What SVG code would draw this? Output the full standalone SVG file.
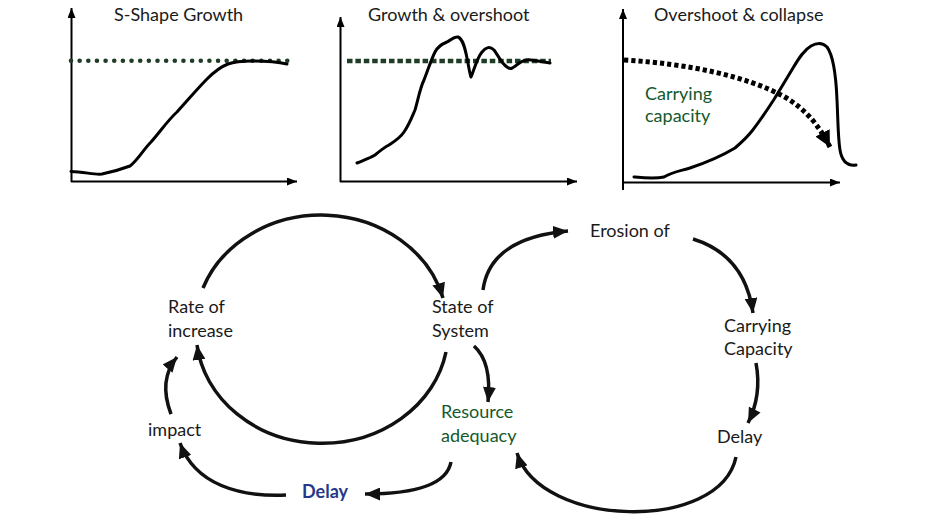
<svg xmlns="http://www.w3.org/2000/svg" width="942" height="520" viewBox="0 0 942 520">
<defs>
<style>
text{font-family:Lato,"Liberation Sans",sans-serif;font-size:18px;fill:#1a1a1a}
.g{fill:#13592b}
.b{fill:#26388a;font-weight:bold}
.axis{stroke:#000;stroke-width:2;fill:none}
.curve{stroke:#000;stroke-width:3;fill:none;stroke-linejoin:round;stroke-linecap:round}
.conn{stroke:#111;stroke-width:3.5;fill:none}
</style>
<marker id="ah" markerUnits="userSpaceOnUse" viewBox="0 0 15 13" refX="15" refY="6.5" markerWidth="15" markerHeight="13" orient="auto">
<path d="M0,0 L15,6.5 L0,13 z" fill="#111"/>
</marker>
<marker id="ax" markerUnits="userSpaceOnUse" viewBox="0 0 10 8" refX="10" refY="4" markerWidth="10" markerHeight="8" orient="auto">
<path d="M0,0 L10,4 L0,8 z" fill="#000"/>
</marker>
<marker id="big" markerUnits="userSpaceOnUse" viewBox="0 0 16 16" refX="16" refY="8" markerWidth="16" markerHeight="16" orient="auto">
<path d="M0,0 L16,8 L0,16 z" fill="#000"/>
</marker>
</defs>

<g id="chart1">
<path class="axis" d="M71.5,182 V8" marker-end="url(#ax)"/>
<path class="axis" d="M71,181.5 H297" marker-end="url(#ax)"/>
<text x="114" y="21">S-Shape Growth</text>
<path d="M71,60.7 H288" stroke="#1f3d26" stroke-width="4.6" stroke-linecap="round" stroke-dasharray="0 8.65" fill="none"/>
<path class="curve" d="M71,171.5 C85,172 95,175 102,174 C112,172 122,169 130,166 C138,160 143,150 151,142 C160,132 168,120 177,112 C188,100 198,88 207,79 C214,72 220,67 228,64 C236,61 245,61 252,61 C265,61 278,62 287,64"/>
</g>

<g id="chart2">
<path class="axis" d="M340.5,182 V17" marker-end="url(#ax)"/>
<path class="axis" d="M340,181.5 H577" marker-end="url(#ax)"/>
<text x="368" y="21">Growth &amp; overshoot</text>
<path d="M347,61 H551" stroke="#1f3d26" stroke-width="4.6" stroke-dasharray="5.5 2.9" fill="none"/>
<path class="curve" d="M357,163 C364,160 370,158 375,155 C381,150 385,147 389,145 C395,141 400,138 404,132 C409,125 412,117 415,110 C418,100 420,88 424,80 C428,70 431,60 435,52 C438,46 442,44 447,42 C451,40 454,36 458,37 C463,39 465,48 467,58 C469,68 470,75 471,77 C474,70 477,58 482,52 C486,47 490,46 494,50 C498,55 501,63 507,67 C511,70 513,68 518,64 C522,61 526,59 531,60 C538,61 544,62 550,63"/>
</g>

<g id="chart3">
<path class="axis" d="M623,190 V9" marker-end="url(#ax)"/>
<path class="axis" d="M622,182.5 H840" marker-end="url(#ax)"/>
<text x="654" y="21">Overshoot &amp; collapse</text>
<path d="M624,60 C690,64 745,76 783,96 C808,110 820,128 830,147" stroke="#000" stroke-width="5" stroke-dasharray="4.2 3" fill="none" marker-end="url(#big)"/>
<path class="curve" d="M634,177 C645,178 655,179 664,177 C672,172 680,171 690,168 C705,163 720,157 735,148 C742,142 748,136 752,131 C760,121 767,110 773,101 C780,90 787,78 793,68 C799,58 804,50 811,46 C818,42 823,43 827,47 C833,55 836,75 837,100 C838,120 838,138 840,150 C842,162 848,166 856,165"/>
<text class="g" x="645" y="100">Carrying</text>
<text class="g" x="645" y="122">capacity</text>
</g>

<g id="connectors">
<path class="conn" d="M203,288 A126,111.5 0 0 1 443,298" marker-end="url(#ah)"/>
<path class="conn" d="M446,352 A126,111.5 0 0 1 197,345" marker-end="url(#ah)"/>
<path class="conn" d="M483,290 Q490,238 568,231" marker-end="url(#ah)"/>
<path class="conn" d="M693,239 Q745,255 753,313" marker-end="url(#ah)"/>
<path class="conn" d="M756,363 Q762,395 748,423" marker-end="url(#ah)"/>
<path class="conn" d="M736,457 C720,533 540,528 517,453" marker-end="url(#ah)"/>
<path class="conn" d="M474,346 Q492,362 488,402" marker-end="url(#ah)"/>
<path class="conn" d="M451,462 Q445,494 365,494" marker-end="url(#ah)"/>
<path class="conn" d="M286,495 C240,497 195,485 180,443" marker-end="url(#ah)"/>
<path class="conn" d="M171,414 Q158,380 177,357" marker-end="url(#ah)"/>
</g>

<g id="rate"><text x="168" y="313">Rate of</text><text x="168" y="337">increase</text></g>
<g id="state"><text x="432" y="313">State of</text><text x="432" y="337">System</text></g>
<g id="impact"><text x="148" y="436">impact</text></g>
<g id="resource"><text class="g" x="441" y="418">Resource</text><text class="g" x="441" y="442">adequacy</text></g>
<g id="delay1"><text class="b" x="302" y="498">Delay</text></g>
<g id="erosion"><text x="590" y="237">Erosion of</text></g>
<g id="carrying"><text x="724" y="332">Carrying</text><text x="724" y="355">Capacity</text></g>
<g id="delay2"><text x="717" y="443">Delay</text></g>
</svg>
